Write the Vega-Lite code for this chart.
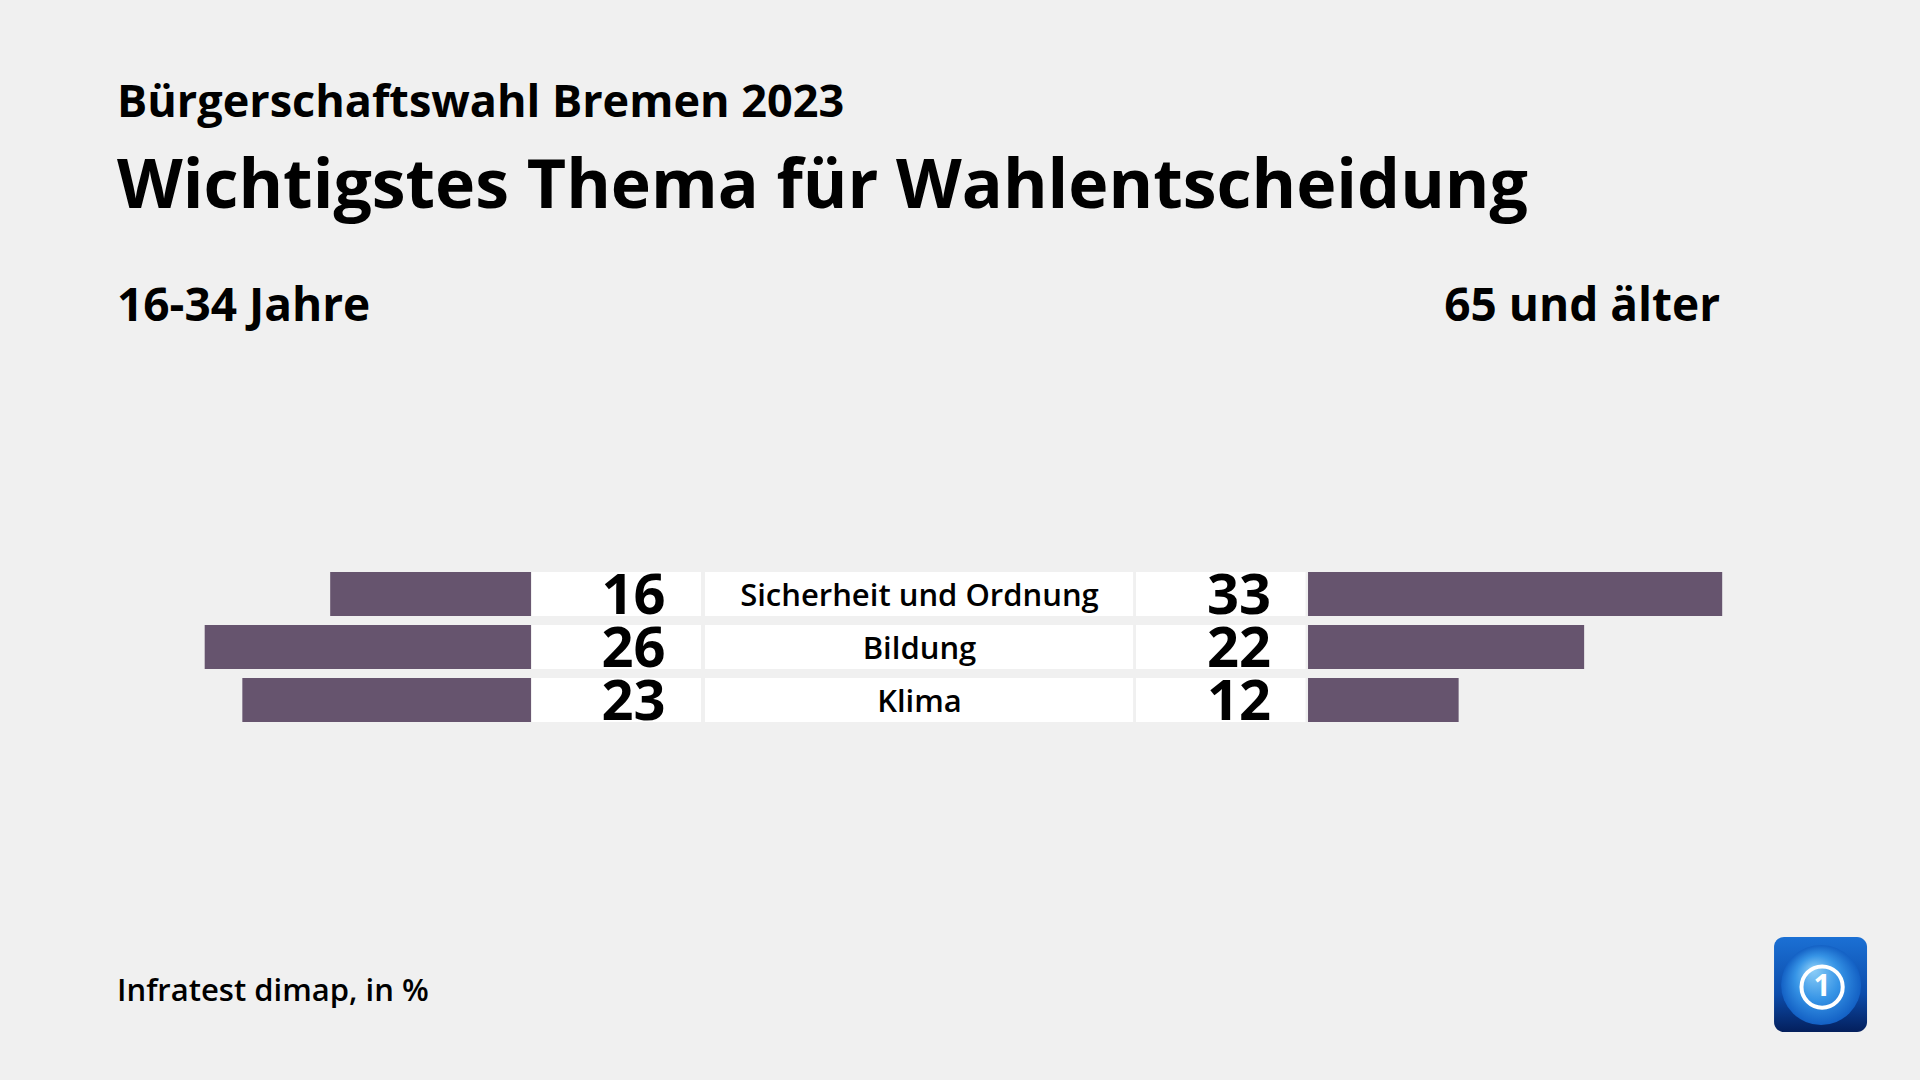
{
  "$schema": "https://vega.github.io/schema/vega-lite/v6.json",
  "width": 1920,
  "height": 1080,
  "autosize": {"type": "none"},
  "padding": 0,
  "background": "#f0f0f0",
  "config": {"view": {"stroke": null}, "text": {"font": "Open Sans"}},
  "data": {"values": [
    {"thema": "Sicherheit und Ordnung", "jung": 16, "alt": 33},
    {"thema": "Bildung", "jung": 26, "alt": 22},
    {"thema": "Klima", "jung": 23, "alt": 12}
  ]},
  "resolve": {"scale": {"x": "independent", "y": "independent"}},
  "layer": [
    {
      "mark": {"type": "bar", "color": "#66546e"},
      "encoding": {
        "y": {"field": "thema", "type": "nominal", "axis": null, "sort": null, "scale": {"type": "band", "domain": ["Sicherheit und Ordnung", "Bildung", "Klima"], "range": [572, 722], "paddingInner": 0.17, "paddingOuter": 0}},
        "x": {"field": "jung", "type": "quantitative", "axis": null, "scale": {"domain": [-110.68, 42.31], "reverse": true, "nice": false, "zero": false}},
        "x2": {"datum": 0}
      }
    },
    {
      "mark": {"type": "bar", "color": "#66546e"},
      "encoding": {
        "y": {"field": "thema", "type": "nominal", "axis": null, "sort": null, "scale": {"type": "band", "domain": ["Sicherheit und Ordnung", "Bildung", "Klima"], "range": [572, 722], "paddingInner": 0.17, "paddingOuter": 0}},
        "x": {"field": "alt", "type": "quantitative", "axis": null, "scale": {"domain": [-104.22, 48.76], "nice": false, "zero": false}},
        "x2": {"datum": 0}
      }
    },
    {
      "mark": {"type": "bar", "color": "#ffffff"},
      "encoding": {
        "y": {"field": "thema", "type": "nominal", "axis": null, "sort": null, "scale": {"type": "band", "domain": ["Sicherheit und Ordnung", "Bildung", "Klima"], "range": [572, 722], "paddingInner": 0.17, "paddingOuter": 0}},
        "x": {"datum": -61.83, "type": "quantitative", "axis": null, "scale": {"domain": [-104.22, 48.76], "nice": false, "zero": false}},
        "x2": {"datum": -48.37}
      }
    },
    {
      "mark": {"type": "bar", "color": "#ffffff"},
      "encoding": {
        "y": {"field": "thema", "type": "nominal", "axis": null, "sort": null, "scale": {"type": "band", "domain": ["Sicherheit und Ordnung", "Bildung", "Klima"], "range": [572, 722], "paddingInner": 0.17, "paddingOuter": 0}},
        "x": {"datum": -48.05, "type": "quantitative", "axis": null, "scale": {"domain": [-104.22, 48.76], "nice": false, "zero": false}},
        "x2": {"datum": -13.94}
      }
    },
    {
      "mark": {"type": "bar", "color": "#ffffff"},
      "encoding": {
        "y": {"field": "thema", "type": "nominal", "axis": null, "sort": null, "scale": {"type": "band", "domain": ["Sicherheit und Ordnung", "Bildung", "Klima"], "range": [572, 722], "paddingInner": 0.17, "paddingOuter": 0}},
        "x": {"datum": -13.71, "type": "quantitative", "axis": null, "scale": {"domain": [-104.22, 48.76], "nice": false, "zero": false}},
        "x2": {"datum": -0.2}
      }
    },
    {
      "mark": {"type": "text", "align": "right", "baseline": "alphabetic", "dy": 20, "fontSize": 56, "fontWeight": 700, "color": "#000000"},
      "encoding": {
        "y": {"field": "thema", "type": "nominal", "axis": null, "sort": null, "scale": {"type": "band", "domain": ["Sicherheit und Ordnung", "Bildung", "Klima"], "range": [572, 722], "paddingInner": 0.17, "paddingOuter": 0}},
        "x": {"datum": -51.2, "type": "quantitative", "axis": null, "scale": {"domain": [-104.22, 48.76], "nice": false, "zero": false}},
        "text": {"field": "jung", "type": "quantitative"}
      }
    },
    {
      "mark": {"type": "text", "align": "center", "baseline": "alphabetic", "dy": 12, "fontSize": 31, "fontWeight": 600, "color": "#000000"},
      "encoding": {
        "y": {"field": "thema", "type": "nominal", "axis": null, "sort": null, "scale": {"type": "band", "domain": ["Sicherheit und Ordnung", "Bildung", "Klima"], "range": [572, 722], "paddingInner": 0.17, "paddingOuter": 0}},
        "x": {"datum": -30.96, "type": "quantitative", "axis": null, "scale": {"domain": [-104.22, 48.76], "nice": false, "zero": false}},
        "text": {"field": "thema", "type": "nominal"}
      }
    },
    {
      "mark": {"type": "text", "align": "right", "baseline": "alphabetic", "dy": 20, "fontSize": 56, "fontWeight": 700, "color": "#000000"},
      "encoding": {
        "y": {"field": "thema", "type": "nominal", "axis": null, "sort": null, "scale": {"type": "band", "domain": ["Sicherheit und Ordnung", "Bildung", "Klima"], "range": [572, 722], "paddingInner": 0.17, "paddingOuter": 0}},
        "x": {"datum": -2.95, "type": "quantitative", "axis": null, "scale": {"domain": [-104.22, 48.76], "nice": false, "zero": false}},
        "text": {"field": "alt", "type": "quantitative"}
      }
    },
    {
      "data": {"values": [{}]},
      "mark": {"type": "text", "align": "left", "baseline": "alphabetic", "fontSize": 45, "fontWeight": 700, "color": "#000000", "text": "Bürgerschaftswahl Bremen 2023"},
      "encoding": {
        "x": {"datum": -94.9, "type": "quantitative", "axis": null, "scale": {"domain": [-104.22, 48.76], "nice": false, "zero": false}},
        "y": {"datum": 89.21, "type": "quantitative", "axis": null, "scale": {"domain": [0, 100], "nice": false, "zero": false}}
      }
    },
    {
      "data": {"values": [{}]},
      "mark": {"type": "text", "align": "left", "baseline": "alphabetic", "fontSize": 68, "fontWeight": 700, "color": "#000000", "text": "Wichtigstes Thema für Wahlentscheidung"},
      "encoding": {
        "x": {"datum": -94.9, "type": "quantitative", "axis": null, "scale": {"domain": [-104.22, 48.76], "nice": false, "zero": false}},
        "y": {"datum": 80.74, "type": "quantitative", "axis": null, "scale": {"domain": [0, 100], "nice": false, "zero": false}}
      }
    },
    {
      "data": {"values": [{}]},
      "mark": {"type": "text", "align": "left", "baseline": "alphabetic", "fontSize": 46, "fontWeight": 700, "color": "#000000", "text": "16-34 Jahre"},
      "encoding": {
        "x": {"datum": -94.9, "type": "quantitative", "axis": null, "scale": {"domain": [-104.22, 48.76], "nice": false, "zero": false}},
        "y": {"datum": 70.28, "type": "quantitative", "axis": null, "scale": {"domain": [0, 100], "nice": false, "zero": false}}
      }
    },
    {
      "data": {"values": [{}]},
      "mark": {"type": "text", "align": "right", "baseline": "alphabetic", "fontSize": 46, "fontWeight": 700, "color": "#000000", "text": "65 und älter"},
      "encoding": {
        "x": {"datum": 32.83, "type": "quantitative", "axis": null, "scale": {"domain": [-104.22, 48.76], "nice": false, "zero": false}},
        "y": {"datum": 70.28, "type": "quantitative", "axis": null, "scale": {"domain": [0, 100], "nice": false, "zero": false}}
      }
    },
    {
      "data": {"values": [{}]},
      "mark": {"type": "text", "align": "left", "baseline": "alphabetic", "fontSize": 31, "fontWeight": 600, "color": "#000000", "text": "Infratest dimap, in %"},
      "encoding": {
        "x": {"datum": -94.9, "type": "quantitative", "axis": null, "scale": {"domain": [-104.22, 48.76], "nice": false, "zero": false}},
        "y": {"datum": 7.3, "type": "quantitative", "axis": null, "scale": {"domain": [0, 100], "nice": false, "zero": false}}
      }
    },
    {
      "data": {"values": [{}]},
      "mark": {"type": "rect", "cornerRadius": 10, "color": {"gradient": "linear", "x1": 0, "y1": 0, "x2": 0, "y2": 1, "stops": [{"offset": 0, "color": "#1b70d4"}, {"offset": 0.6, "color": "#0c4cab"}, {"offset": 1, "color": "#041f5c"}]}},
      "encoding": {
        "x": {"datum": 37.13, "type": "quantitative", "axis": null, "scale": {"domain": [-104.22, 48.76], "nice": false, "zero": false}},
        "x2": {"datum": 44.54},
        "y": {"datum": 13.24, "type": "quantitative", "axis": null, "scale": {"domain": [0, 100], "nice": false, "zero": false}},
        "y2": {"datum": 4.44}
      }
    },
    {
      "data": {"values": [{}]},
      "mark": {"type": "point", "shape": "circle", "filled": true, "size": 6400, "opacity": 1, "color": {"gradient": "radial", "x1": 0.4, "y1": 0.3, "x2": 0.5, "y2": 0.5, "r1": 0, "r2": 0.5, "stops": [{"offset": 0, "color": "#8fd0f8"}, {"offset": 0.55, "color": "#3694e6"}, {"offset": 1, "color": "#1360c4"}]}},
      "encoding": {
        "x": {"datum": 40.88, "type": "quantitative", "axis": null, "scale": {"domain": [-104.22, 48.76], "nice": false, "zero": false}},
        "y": {"datum": 8.8, "type": "quantitative", "axis": null, "scale": {"domain": [0, 100], "nice": false, "zero": false}}
      }
    },
    {
      "data": {"values": [{}]},
      "mark": {"type": "point", "shape": "circle", "filled": false, "size": 1700, "opacity": 1, "stroke": "#ffffff", "strokeWidth": 4},
      "encoding": {
        "x": {"datum": 40.96, "type": "quantitative", "axis": null, "scale": {"domain": [-104.22, 48.76], "nice": false, "zero": false}},
        "y": {"datum": 8.61, "type": "quantitative", "axis": null, "scale": {"domain": [0, 100], "nice": false, "zero": false}}
      }
    },
    {
      "data": {"values": [{}]},
      "mark": {"type": "text", "align": "center", "baseline": "middle", "fontSize": 30, "fontWeight": 700, "color": "#ffffff", "text": "1"},
      "encoding": {
        "x": {"datum": 40.96, "type": "quantitative", "axis": null, "scale": {"domain": [-104.22, 48.76], "nice": false, "zero": false}},
        "y": {"datum": 8.61, "type": "quantitative", "axis": null, "scale": {"domain": [0, 100], "nice": false, "zero": false}}
      }
    }
  ]
}
